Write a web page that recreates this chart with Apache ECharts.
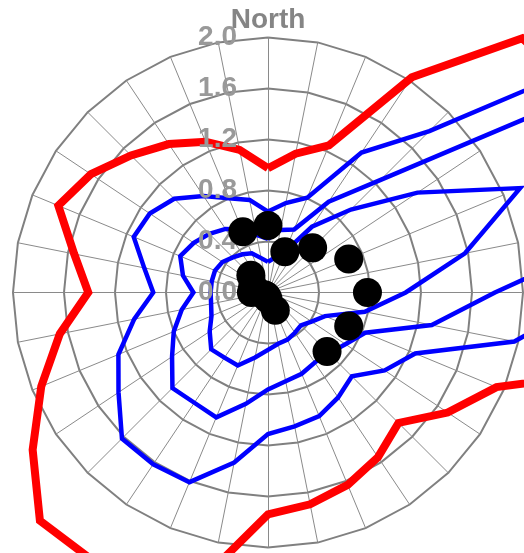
<!DOCTYPE html>
<html>
<head>
<meta charset="utf-8">
<script src="https://cdn.jsdelivr.net/npm/echarts@6/dist/echarts.min.js"></script>
<style>
  html, body { margin: 0; padding: 0; background: #ffffff; }
  #chart { width: 524px; height: 553px; }
</style>
</head>
<body>
<div id="chart"></div>
<script>
// 32 compass spokes, clockwise from North, 11.25 degrees apart
const spokeNames = ['North', '', '', '', '', '', '', '', '', '', '', '', '', '', '', '',
                    '', '', '', '', '', '', '', '', '', '', '', '', '', '', '', ''];

// Ring values per spoke (clockwise from North)
const redRing = [0.975, 1.11, 1.25, 2.03, 2.82, 2.90, 2.95, 3.00, 3.00, 3.02, 1.94, 1.695,
                 1.447, 1.553, 1.633, 1.694, 1.74, 2.21, 2.40, 2.51, 2.53, 2.22, 1.925, 1.665,
                 1.41, 1.55, 1.78, 1.67, 1.52, 1.40, 1.28, 1.14];
const blueInner = [0.24, 0.28, 0.345, 0.62, 0.92, 1.41, 2.14, 1.575, 1.08, 0.774, 0.484, 0.41,
                   0.365, 0.38, 0.40, 0.41, 0.45, 0.52, 0.62, 0.615, 0.63, 0.55, 0.48, 0.455,
                   0.45, 0.45, 0.45, 0.43, 0.39, 0.36, 0.333, 0.275];
const blueMiddle = [0.42, 0.50, 0.535, 0.857, 1.25, 2.50, 3.20, 3.20, 1.78, 1.31, 0.825, 0.73,
                    0.675, 0.66, 0.69, 0.71, 0.76, 0.89, 1.06, 1.04, 1.06, 0.905, 0.80, 0.69,
                    0.585, 0.68, 0.745, 0.70, 0.65, 0.60, 0.534, 0.46];
const blueOuter = [0.635, 0.715, 0.805, 1.32, 1.79, 3.60, 3.50, 3.00, 2.62, 1.97, 1.25, 1.10,
                   0.93, 0.99, 1.05, 1.07, 1.11, 1.36, 1.61, 1.62, 1.62, 1.41, 1.27, 1.07,
                   0.90, 0.99, 1.14, 1.115, 1.04, 0.91, 0.80, 0.74];

// 16-point compass samples (degrees clockwise from North)
const dotAngles = [0, 22.5, 45, 67.5, 90, 112.5, 135, 157.5,
                   180, 202.5, 225, 247.5, 270, 292.5, 315, 337.5];
const dotValues = [0.525, 0.345, 0.495, 0.685, 0.78, 0.685, 0.655, 0.15,
                   0.05, 0.03, 0.03, 0.04, 0.13, 0.13, 0.19, 0.515];

const radiusTicks = [0.0, 0.4, 0.8, 1.2, 1.6, 2.0];

const CENTER = [268, 292.5];
const RADIUS = 255;
const GRID_MAX = radiusTicks[radiusTicks.length - 1];

// Radar lays indicators out counter-clockwise, so reorder compass data
const n = spokeNames.length;
const toRadarOrder = arr => arr.map((_, j) => arr[(n - j) % n]);

const indicators = toRadarOrder(spokeNames).map(name => ({ name: name, min: 0, max: GRID_MAX }));

function ringSeries(values, color, width, z) {
  return {
    type: 'radar',
    radarIndex: 0,
    z: z,
    symbol: 'none',
    silent: true,
    lineStyle: { color: color, width: width, opacity: 1, join: 'miter', miterLimit: 4 },
    data: [{ value: toRadarOrder(values) }]
  };
}

const chart = echarts.init(document.getElementById('chart'), null, { renderer: 'canvas' });

chart.setOption({
  animation: false,
  backgroundColor: '#ffffff',
  radar: {
    center: CENTER,
    radius: RADIUS,
    startAngle: 90,
    shape: 'polygon',
    splitNumber: radiusTicks.length - 1,
    indicator: indicators,
    nameGap: 3,
    axisName: {
      color: '#858585',
      fontFamily: 'Liberation Sans',
      fontWeight: 'bold',
      fontSize: 28
    },
    axisLine: { lineStyle: { color: '#8a8a8a', width: 1 } },
    axisTick: { show: false },
    axisLabel: { show: false },
    splitLine: { lineStyle: { color: '#808080', width: 2 } },
    splitArea: { show: false },
    z: 1
  },
  polar: { center: CENTER, radius: RADIUS },
  angleAxis: {
    type: 'value', min: 0, max: 360, startAngle: 90, clockwise: true,
    show: false
  },
  radiusAxis: {
    type: 'value', min: 0, max: GRID_MAX, interval: 0.4,
    z: 3,
    axisLine: { show: false },
    axisTick: { show: false },
    splitLine: { show: false },
    axisLabel: {
      show: true,
      margin: 31,
      color: '#999999',
      fontFamily: 'Liberation Sans',
      fontWeight: 'bold',
      fontSize: 28,
      formatter: v => v.toFixed(1)
    }
  },
  series: [
    ringSeries(redRing, '#ff0000', 8, 2),
    ringSeries(blueOuter, '#0000ff', 4.5, 2),
    ringSeries(blueMiddle, '#0000ff', 4.5, 2),
    ringSeries(blueInner, '#0000ff', 4.5, 2),
    {
      type: 'scatter',
      coordinateSystem: 'polar',
      z: 4,
      symbol: 'circle',
      symbolSize: 29,
      itemStyle: { color: '#000000', opacity: 1 },
      silent: true,
      data: dotValues.map((v, i) => [v, dotAngles[i]])
    }
  ]
});
</script>
</body>
</html>
